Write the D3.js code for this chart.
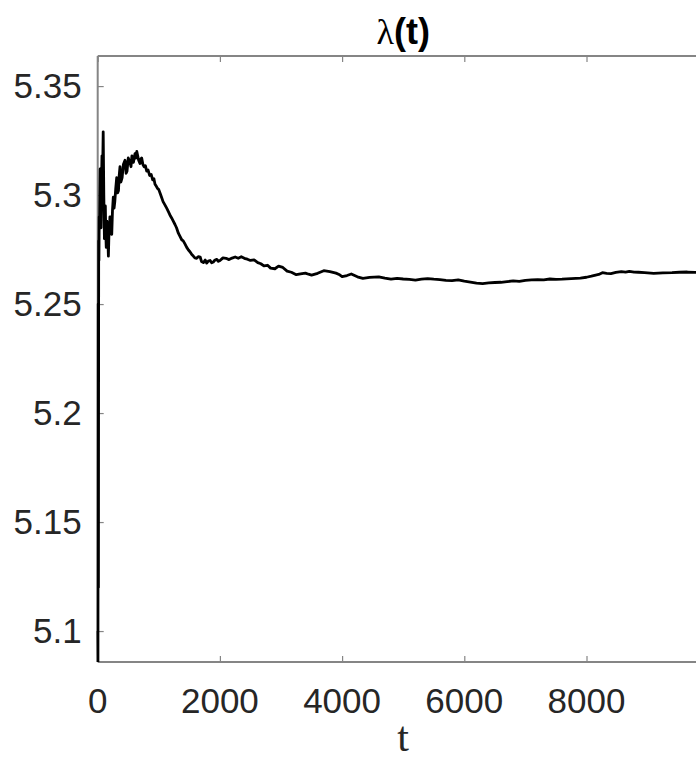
<!DOCTYPE html>
<meta charset="utf-8">
<style>
  body { margin: 0; background: #fff; }
  .tick-label { font-family: "Liberation Sans", Arial, sans-serif; font-size: 35px; fill: #262626; }
  .title-text { font-family: "Liberation Sans", Arial, sans-serif; font-size: 36px; font-weight: bold; fill: #000; }
  .axis-label { font-family: "Liberation Serif", "Times New Roman", serif; font-size: 42px; fill: #262626; }
</style>
<div id="chartarea"></div>
<script src="https://d3js.org/d3.v7.min.js"></script>
<script>

// time points and lambda(t)
var tValues = [0, 4, 8, 12, 16, 20, 25, 30, 35, 40, 48, 55, 62, 70, 80, 90, 100, 110, 118, 125, 132, 140, 150, 160, 168, 175, 183, 190, 200, 210, 220, 230, 242, 255, 268, 280,
  295, 311, 325, 340, 352, 365, 380, 400, 420, 447, 465, 480, 500, 529, 545, 560, 585, 610, 625, 640, 655, 670, 692, 705, 720, 740, 760, 780, 802, 825, 850, 875, 900, 920, 938, 960, 980, 1000, 1020,
  1045, 1070, 1100, 1129, 1155, 1180, 1210, 1237, 1265, 1290, 1320, 1347, 1375, 1400, 1430, 1457, 1485, 1510, 1540, 1565, 1590, 1620, 1650, 1677, 1700, 1730, 1760, 1784, 1810, 1840, 1865, 1892, 1920, 1950, 1975, 2002,
  2050, 2100, 2150, 2200, 2250, 2300, 2350, 2400, 2450, 2500, 2560, 2620, 2670, 2720, 2780, 2830, 2900, 2960, 3030, 3100, 3170, 3250, 3320, 3400, 3450, 3500, 3600, 3700, 3800, 3900, 3950, 4000,
  4080, 4150, 4250, 4340, 4450, 4600, 4700, 4800, 4900, 5000, 5100, 5200, 5300, 5400, 5500, 5600, 5700, 5800, 5900, 6000, 6100, 6200, 6300, 6400, 6500, 6600, 6700, 6800, 6900, 7000, 7100, 7200, 7300, 7400,
  7500, 7600, 7750, 7900, 8000, 8080, 8150, 8200, 8260, 8330, 8400, 8480, 8570, 8640, 8700, 8780, 8850, 8950, 9100, 9250, 9400, 9520, 9650, 9780, 9900, 10000];

var lambdaValues = [5.10, 5.086, 5.25, 5.12, 5.279, 5.27, 5.29, 5.285, 5.30, 5.312, 5.295, 5.285, 5.305, 5.318, 5.31, 5.329, 5.30, 5.28, 5.29, 5.295, 5.283, 5.276, 5.288, 5.285, 5.278, 5.272, 5.281, 5.283, 5.29, 5.29, 5.284, 5.282, 5.293, 5.299, 5.294, 5.297,
  5.303, 5.308, 5.301, 5.302, 5.309, 5.313, 5.306, 5.308, 5.314, 5.316, 5.310, 5.311, 5.317, 5.315, 5.313, 5.318, 5.315, 5.319, 5.317, 5.320, 5.318, 5.316, 5.3145, 5.3165, 5.317, 5.314, 5.313, 5.3135, 5.311, 5.3115, 5.309, 5.3095, 5.307, 5.3075, 5.305, 5.304, 5.303, 5.3025, 5.301,
  5.299, 5.297, 5.2955, 5.294, 5.2925, 5.291, 5.2895, 5.288, 5.2865, 5.285, 5.2825, 5.281, 5.2795, 5.279, 5.2775, 5.276, 5.2748, 5.274, 5.2727, 5.272, 5.2712, 5.271, 5.2718, 5.2716, 5.2695, 5.269, 5.2702, 5.2688, 5.2697, 5.270, 5.2689, 5.2693, 5.2702, 5.2705, 5.2696, 5.270,
  5.2712, 5.271, 5.2704, 5.2711, 5.2716, 5.271, 5.2717, 5.271, 5.2706, 5.270, 5.2703, 5.269, 5.2685, 5.2675, 5.2678, 5.2665, 5.2662, 5.2674, 5.2668, 5.2651, 5.2646, 5.2635, 5.2639, 5.2642, 5.2637, 5.2633, 5.2641, 5.2653, 5.2649, 5.2642, 5.2636, 5.2626,
  5.2631, 5.2638, 5.2625, 5.2618, 5.2622, 5.2625, 5.2619, 5.2614, 5.2618, 5.2615, 5.2613, 5.261, 5.2614, 5.2617, 5.2614, 5.2612, 5.2609, 5.2608, 5.2611, 5.2605, 5.2601, 5.2596, 5.2594, 5.2597, 5.2599, 5.260, 5.2603, 5.2606, 5.2604, 5.2609, 5.2611, 5.2612, 5.2611, 5.2615,
  5.2613, 5.2614, 5.2617, 5.2619, 5.2623, 5.2628, 5.2633, 5.2636, 5.2644, 5.2641, 5.264, 5.2645, 5.2649, 5.2647, 5.2650, 5.2647, 5.2646, 5.2644, 5.2641, 5.2643, 5.2644, 5.2646, 5.2647, 5.2645, 5.2646, 5.2646];

var xTicks = [0, 2000, 4000, 6000, 8000];
var yTicks = [5.1, 5.15, 5.2, 5.25, 5.3, 5.35];

var width = 696, height = 763;
var mLeft = 97.7, mRight = 708.7, mTop = 56, mBottom = 662;

var svg = d3.select("#chartarea").append("svg")
    .attr("width", width)
    .attr("height", height);

var x = d3.scaleLinear()
    .domain([0, 10000])
    .range([mLeft, mRight]);

var y = d3.scaleLinear()
    .domain([5.0858, 5.3638])
    .range([mBottom, mTop]);

var data = tValues.map(function(t, i) { return {t: t, v: lambdaValues[i]}; });

svg.append("clipPath")
    .attr("id", "plotclip")
  .append("rect")
    .attr("x", mLeft - 1.5)
    .attr("y", mTop)
    .attr("width", mRight - mLeft + 1.5)
    .attr("height", mBottom - mTop);

// axes: ticks inside the box, labels drawn separately
var axisColor = "#858585";

var xAxis = svg.append("g")
    .attr("transform", "translate(0," + mBottom + ")")
    .call(d3.axisTop(x).tickValues(xTicks).tickSize(6).tickFormat(""));
var xAxisTop = svg.append("g")
    .attr("transform", "translate(0," + mTop + ")")
    .call(d3.axisBottom(x).tickValues(xTicks).tickSize(6).tickFormat(""));
var yAxis = svg.append("g")
    .attr("transform", "translate(" + mLeft + ",0)")
    .call(d3.axisRight(y).tickValues(yTicks).tickSize(6).tickFormat(""));

[xAxis, xAxisTop, yAxis].forEach(function(a) {
  a.select(".domain").remove();
  a.selectAll("line").attr("stroke", axisColor).attr("stroke-width", 1.2);
});

svg.append("line")
    .attr("x1", mLeft).attr("x2", mRight)
    .attr("y1", mBottom).attr("y2", mBottom)
    .attr("stroke", axisColor).attr("stroke-width", 2);
svg.append("line")
    .attr("x1", mLeft).attr("x2", mRight)
    .attr("y1", mTop).attr("y2", mTop)
    .attr("stroke", axisColor).attr("stroke-width", 2);
svg.append("line")
    .attr("x1", mLeft).attr("x2", mLeft)
    .attr("y1", mTop).attr("y2", mBottom)
    .attr("stroke", axisColor).attr("stroke-width", 2);

// the curve
var line = d3.line()
    .x(function(d) { return x(d.t); })
    .y(function(d) { return y(d.v); });

svg.append("path")
    .datum(data)
    .attr("clip-path", "url(#plotclip)")
    .attr("fill", "none")
    .attr("stroke", "#000")
    .attr("stroke-width", 2.8)
    .attr("stroke-linejoin", "round")
    .attr("d", line);

svg.selectAll(".xlab")
    .data(xTicks)
    .enter().append("text")
    .attr("class", "tick-label xlab")
    .attr("text-anchor", "middle")
    .attr("x", function(d) { return x(d); })
    .attr("y", mBottom + 51)
    .text(function(d) { return d; });

svg.selectAll(".ylab")
    .data(yTicks)
    .enter().append("text")
    .attr("class", "tick-label ylab")
    .attr("text-anchor", "end")
    .attr("x", mLeft - 16)
    .attr("y", function(d) { return y(d) + 12; })
    .text(function(d) { return d; });

var title = svg.append("text")
    .attr("class", "title-text")
    .attr("text-anchor", "middle")
    .attr("x", (mLeft + mRight) / 2)
    .attr("y", 44);
title.append("tspan")
    .style("font-family", "'Liberation Serif', serif")
    .style("font-weight", "normal")
    .text("λ");
title.append("tspan").text("(t)");

svg.append("text")
    .attr("class", "axis-label")
    .attr("text-anchor", "middle")
    .attr("x", (mLeft + mRight) / 2)
    .attr("y", 751)
    .text("t");
</script>
